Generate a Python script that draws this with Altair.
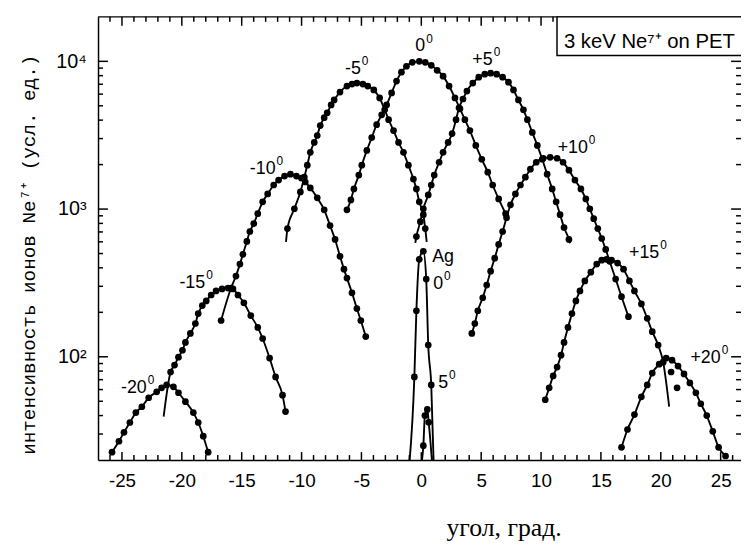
import altair as alt
import pandas as pd

# ---------------- data ----------------
# angle in degrees, intensity of Ne7+ ions (arb. units)
m20_ang = [-25.83, -25.25, -24.83, -24.34, -23.84, -23.34, -22.77, -22.10, -21.69, -21.27,
           -20.70, -20.28, -19.70, -19.04, -18.63, -18.21, -17.80]
m20_int = [22.6, 26.8, 30.8, 35.9, 41.9, 45.9, 52.8, 57.9, 61.6, 64.5,
           62.6, 57.1, 49.7, 41.9, 35.9, 29.0, 22.6]

m15_ang = [-20.94, -20.61, -20.28, -19.95, -19.70, -19.29, -18.87, -18.63, -18.29, -17.96,
           -17.55, -17.14, -16.64, -16.14, -15.73, -15.31, -14.82, -14.24, -13.66, -13.25,
           -12.67, -12.17, -11.59, -11.34]
m15_int = [78.9, 87.9, 99.4, 110.7, 125, 144, 168, 196, 222, 239,
           262, 279, 288, 292, 288, 262, 232, 190, 158, 133,
           98, 73, 55, 42.6]
m15_ext_ang = [-21.52]
m15_ext_int = [39.4]

m10_ang = [-16.72, -15.89, -15.48, -15.15, -14.90, -14.57, -14.32, -13.99, -13.66, -13.25,
           -12.83, -12.33, -11.92, -11.42, -10.93, -10.43, -10.02, -9.69, -9.27, -8.69,
           -8.11, -7.62, -7.20, -6.79, -6.46, -6.21, -5.79, -5.38, -5.05, -4.64]
m10_int = [176, 292, 352, 424, 494, 604, 705, 798, 931, 1119,
           1266, 1455, 1571, 1671, 1722, 1671, 1622, 1525, 1390, 1191,
           988, 773, 623, 479, 392, 341, 271, 212, 176, 137]

m5_ang = [-11.18, -10.60, -10.10, -9.77, -9.52, -9.27, -8.94, -8.69, -8.44, -8.11,
          -7.86, -7.53, -7.28, -6.79, -6.21, -5.79, -5.38, -4.88, -4.47, -3.97,
          -3.48, -3.06, -2.73, -2.32, -1.90, -1.49, -1.08, -0.66, -0.41, -0.17,
          0.17, 0.33]
m5_int = [738, 1005, 1306, 1644, 1982, 2422, 2826, 3148, 3673, 4153,
          4486, 5071, 5478, 6195, 6805, 7020, 7130, 7020, 6805, 6400,
          5650, 4700, 4030, 3400, 2826, 2422, 1982, 1597, 1368, 1119,
          916, 738]
m5_ext_ang = [-11.30, 0.45]
m5_ext_int = [600, 600]

z0_ang = [-6.21, -5.88, -5.63, -5.22, -4.97, -4.55, -4.14, -3.73, -3.31, -2.90,
          -2.48, -2.07, -1.66, -1.24, -0.75, -0.17, 0.33, 0.83, 1.32, 1.82,
          2.32, 2.81, 3.23, 3.64, 4.06, 4.55, 5.05, 5.55, 5.96, 6.46, 7.04]
z0_int = [988, 1153, 1368, 1698, 1982, 2495, 3048, 3724, 4346, 5071,
          6110, 7350, 8440, 9265, 9850, 10000, 9850, 9400, 8700, 7940,
          6805, 5650, 4770, 4030, 3400, 2698, 2173, 1778, 1455, 1172, 931]

p5_ang = [-0.41, -0.08, 0.17, 0.58, 0.83, 1.08, 1.49, 1.82, 2.24, 2.57,
          2.90, 3.15, 3.48, 3.81, 4.30, 4.80, 5.30, 5.79, 6.29, 6.79,
          7.28, 7.70, 8.11, 8.53, 8.86, 9.27, 9.69, 10.10, 10.51, 10.93,
          11.26, 11.59, 11.92, 12.33]
p5_int = [652, 822, 1005, 1247, 1455, 1698, 2075, 2422, 2826, 3245,
          4030, 4842, 5560, 6295, 7130, 7815, 8180, 8310, 8180, 7815,
          7230, 6400, 5478, 4700, 4030, 3300, 2698, 2173, 1722, 1368,
          1119, 916, 750, 623]
p5_ext_ang = [-0.50, 12.42]
p5_ext_int = [590, 587]

p10_ang = [4.22, 4.47, 4.72, 5.13, 5.46, 5.79, 6.13, 6.46, 6.79, 7.12,
           7.45, 7.86, 8.28, 8.69, 9.11, 9.60, 10.18, 10.76, 11.34, 11.84,
           12.33, 12.83, 13.33, 13.74, 14.07, 14.40, 14.74, 15.07, 15.40, 15.73,
           16.23, 16.72, 17.30]
p10_int = [144, 168, 205, 251, 306, 380, 465, 576, 705, 875,
           1069, 1266, 1455, 1644, 1862, 2075, 2208, 2240, 2208, 2075,
           1833, 1571, 1368, 1172, 1005, 861, 738, 632, 533, 443,
           336, 255, 187]

p15_ang = [10.35, 10.68, 11.01, 11.34, 11.67, 11.92, 12.25, 12.58, 12.91, 13.25,
           13.66, 14.16, 14.65, 15.07, 15.48, 15.89, 16.39, 16.89, 17.38, 17.80,
           18.38, 18.87, 19.29, 19.78, 20.20]
p15_int = [51.2, 61.6, 74.2, 85.2, 102.5, 125, 158, 196, 239, 279,
           326, 374, 424, 451, 457, 451, 431, 392, 326, 279,
           228, 182, 148, 120, 92]
p15_ext_ang = [20.70]
p15_ext_int = [46]

p20_ang = [16.72, 17.22, 17.80, 18.38, 18.87, 19.29, 19.87, 20.45, 20.94, 21.44,
           21.94, 22.43, 22.93, 23.34, 23.84, 24.34, 24.83, 25.41]
p20_int = [24.4, 32.2, 40.6, 53.6, 64.5, 77.6, 89.1, 98, 94.9, 86.5,
           76.5, 66.5, 57.1, 48.1, 40, 31.3, 24.4, 21.3]
p20_off_ang = [20.86, 21.36]
p20_off_int = [78.9, 61.6]

ag0_ang = [-0.58, -0.41, -0.17, 0.17, 0.41, 0.58, 0.83]
ag0_int = [73, 205, 457, 518, 336, 120, 64.5]
ag0_ext_ang = [-1.05, 1.05]
ag0_ext_int = [17, 17]

ag5_ang = [0.17, 0.30, 0.50, 0.62]
ag5_int = [25, 40, 44, 36]
ag5_ext_ang = [-0.10, 0.95]
ag5_ext_int = [17, 17]

# peak labels (main text, superscript, anchor = right end of main text)
lab_main = ["-20", "-15", "-10", "-5", "0", "+5", "+10", "+15", "+20", "Ag", "0", "5"]
lab_sup = ["0", "0", "0", "0", "0", "0", "0", "0", "0", "", "0", "0"]
lab_ang = [-22.93, -18.05, -12.17, -5.05, 0.33, 5.96, 13.91, 19.87, 25.0, 2.73, 1.82, 2.24]
lab_int = [61.7, 316, 1862, 8840, 12600, 10160, 2577, 502, 98, 474, 313, 66.5]

x_major = [-25, -20, -15, -10, -5, 0, 5, 10, 15, 20, 25]
x_minor = [i for i in range(-26, 27) if i % 5 != 0]
y_major = [100, 1000, 10000]
y_major_labels = ["10²", "10³", "10⁴"]
y_minor = [m * 10 ** e for e in (1, 2, 3) for m in range(2, 10) if 20 < m * 10 ** e < 20000]

box_text = ["3 keV Ne⁷⁺ on PET"]

# ---------------- build tables ----------------
rows = []


def add(name, ang, inten, kind):
    for a, v in zip(ang, inten):
        rows.append({"curve": name, "angle": a, "intensity": v, "kind": kind})


add("-20", m20_ang, m20_int, "dot")
add("-15", m15_ang, m15_int, "dot")
add("-15", m15_ext_ang, m15_ext_int, "line")
add("-10", m10_ang, m10_int, "dot")
add("-5", m5_ang, m5_int, "dot")
add("-5", m5_ext_ang, m5_ext_int, "line")
add("0", z0_ang, z0_int, "dot")
add("+5", p5_ang, p5_int, "dot")
add("+5", p5_ext_ang, p5_ext_int, "line")
add("+10", p10_ang, p10_int, "dot")
add("+15", p15_ang, p15_int, "dot")
add("+15", p15_ext_ang, p15_ext_int, "line")
add("+20", p20_ang, p20_int, "dot")
add("+20", p20_off_ang, p20_off_int, "offline")
add("Ag0", ag0_ang, ag0_int, "dot")
add("Ag0", ag0_ext_ang, ag0_ext_int, "line")
add("Ag5", ag5_ang, ag5_int, "dot")
add("Ag5", ag5_ext_ang, ag5_ext_int, "line")
curves = pd.DataFrame(rows)

labels = pd.DataFrame({"main": lab_main, "sup": lab_sup, "angle": lab_ang, "intensity": lab_int})

W, H = 650, 448
xs = alt.Scale(domain=[-27, 26.7], nice=False, zero=False)
ys = alt.Scale(type="log", domain=[20, 20000], nice=False)

y_expr = " : ".join(
    f"datum.value == {v} ? '{t}'" for v, t in zip(y_major[:-1], y_major_labels[:-1])
) + f" : '{y_major_labels[-1]}'"

x_axis = alt.Axis(
    values=x_major, labelExpr="'' + datum.value", ticks=False, grid=False,
    domain=True, domainColor="black", domainWidth=1.5, labelFlush=False,
    labelFont="Liberation Sans", labelFontSize=19, labelColor="black", labelPadding=12,
    title="угол, град.", titleFont="Liberation Serif", titleFontSize=26,
    titleFontWeight="normal", titleColor="black", titleX=410, titleY=76,
    titleAlign="center", titleBaseline="alphabetic",
)
y_axis = alt.Axis(
    values=y_major, labelExpr=y_expr, ticks=False, grid=False,
    domain=True, domainColor="black", domainWidth=1.5,
    labelFont="Liberation Sans", labelFontSize=20, labelColor="black", labelPadding=12,
    title="интенсивность ионов Ne⁷⁺ (усл. ед.)", titleFont="Liberation Mono",
    titleFontSize=19.5, titleFontWeight="normal", titleColor="black",
    titleX=-70, titleY=240, titleAlign="center", titleBaseline="middle",
)

X = lambda f: alt.X(f, scale=xs, axis=x_axis)
Y = lambda f: alt.Y(f, scale=ys, axis=y_axis)

base = alt.Chart(curves)

lines = base.transform_filter("datum.kind != 'offline'").mark_line(
    color="black", strokeWidth=1.9, interpolate="monotone", clip=True
).encode(
    x=X("angle:Q"),
    y=Y("intensity:Q"),
    detail="curve:N",
    order="angle:Q",
)

dots = base.transform_filter("datum.kind != 'line'").mark_circle(
    color="black", size=46, opacity=1, clip=True
).encode(
    x=X("angle:Q"),
    y=Y("intensity:Q"),
)


def xticks(vals, length, top):
    y0 = 0 if top else H
    y1 = length if top else H - length
    return alt.Chart(pd.DataFrame({"angle": vals})).mark_rule(color="black", strokeWidth=1.5).encode(
        x=X("angle:Q"), y=alt.value(y0), y2=alt.value(y1)
    )


def yticks(vals, length, right):
    x0 = W if right else 0
    x1 = W - length if right else length
    return alt.Chart(pd.DataFrame({"intensity": vals})).mark_rule(color="black", strokeWidth=1.5).encode(
        y=Y("intensity:Q"), x=alt.value(x0), x2=alt.value(x1)
    )


tick_layers = [
    xticks(x_major, 8, False), xticks(x_minor, 5, False),
    xticks(x_major, 9, True), xticks(x_minor, 5, True),
    yticks(y_major, 10, False), yticks(y_minor, 5, False),
    yticks(y_major, 10, True), yticks(y_minor, 5, True),
]

one = pd.DataFrame({"txt": box_text})
top_line = alt.Chart(one).mark_rule(color="black", strokeWidth=1.5).encode(
    x=alt.value(0), x2=alt.value(W), y=alt.value(0)
)
box = alt.Chart(one).mark_rect(fill="white", stroke="black", strokeWidth=1.5).encode(
    x=alt.value(464), x2=alt.value(W + 20), y=alt.value(0), y2=alt.value(39)
)
box_label = alt.Chart(one).mark_text(
    align="left", baseline="alphabetic", font="Liberation Sans", fontSize=20.5, color="black"
).encode(x=alt.value(471), y=alt.value(31), text="txt:N")

lab_main_layer = alt.Chart(labels).mark_text(
    align="right", baseline="middle", font="Liberation Sans", fontSize=18, color="black"
).encode(
    x=X("angle:Q"),
    y=Y("intensity:Q"),
    text="main:N",
)
lab_sup_layer = alt.Chart(labels).mark_text(
    align="left", baseline="middle", font="Liberation Sans", fontSize=12, color="black",
    dx=1, dy=-8,
).encode(
    x=X("angle:Q"),
    y=Y("intensity:Q"),
    text="sup:N",
)

chart = alt.layer(
    lines, dots, *tick_layers, top_line, box, box_label, lab_main_layer, lab_sup_layer
).properties(
    width=W, height=H,
    autosize=alt.AutoSizeParams(type="none"),
    padding={"left": 91, "top": 6, "right": 0, "bottom": 90},
    background="white",
).configure_view(strokeOpacity=0)

chart.save("out.html", embed_options={"renderer": "svg", "actions": False})
